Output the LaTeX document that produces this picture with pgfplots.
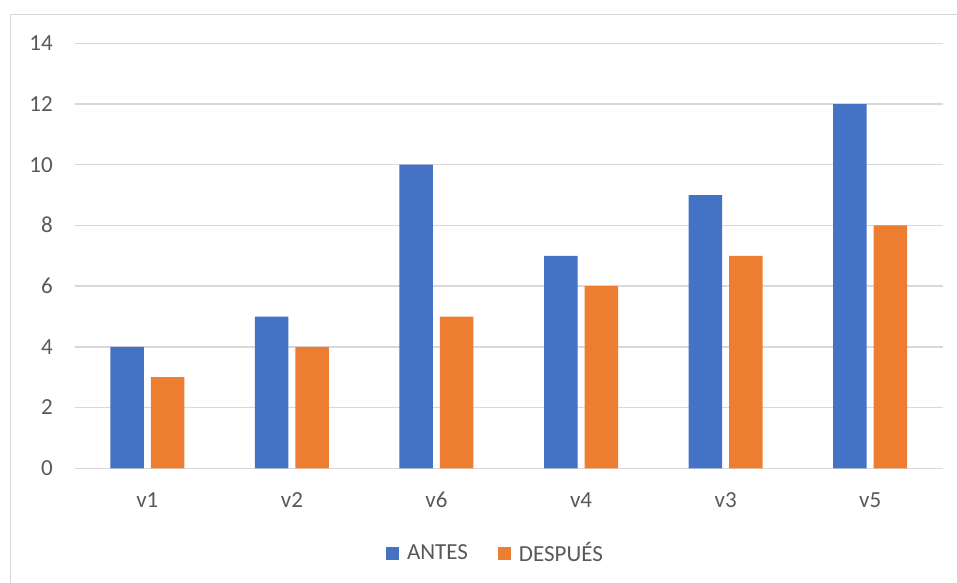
\documentclass[border=0pt]{standalone}
\usepackage{pgfplots}
\pgfplotsset{compat=1.18}
\usepackage{fontspec}
\setmainfont{Carlito}
\definecolor{serA}{HTML}{4472C4}
\definecolor{serB}{HTML}{ED7D31}
\definecolor{gridc}{HTML}{D9D9D9}
\definecolor{txt}{HTML}{595959}
\begin{document}
\begin{tikzpicture}
\useasboundingbox (0,0) rectangle (957bp,-583bp);
% chart frame
\draw[gridc, line width=1.6bp] (10.5bp,-583bp) -- (10.5bp,-14.5bp) -- (957bp,-14.5bp);
\begin{axis}[
  at={(75bp,-468.3bp)}, anchor=south west,
  scale only axis,
  width=867.5bp, height=425bp,
  ybar=7bp, bar width=33.5bp,
  xmin=-0.5, xmax=5.5,
  ymin=0, ymax=14,
  ytick={0,2,...,14},
  xtick={0,1,2,3,4,5},
  xticklabels={v1,v2,v6,v4,v3,v5},
  axis line style={draw=none},
  major tick length=0pt,
  ymajorgrids,
  grid style={gridc, line width=1.4bp},
  /pgf/number format/assume math mode=true,
  tick label style={font=\fontsize{23bp}{27bp}\selectfont, text=txt, inner sep=0pt},
  yticklabel style={anchor=base east, xshift=-22bp, yshift=-7.3bp},
  xticklabel style={anchor=base, yshift=-39bp},
  legend style={at={(0.4847,-0.1993)}, anchor=center, draw=none,
    font=\fontsize{23bp}{27bp}\selectfont, text=txt,
    legend columns=2, inner sep=0pt,
    /tikz/every odd column/.append style={column sep=6bp},
    /tikz/every even column/.append style={column sep=28bp}},
  legend image code/.code={\fill[#1] (0bp,-6.5bp) rectangle (13bp,6.5bp);},
  legend cell align=left,
]
\addplot[fill=serA, draw=none] coordinates {(0,4) (1,5) (2,10) (3,7) (4,9) (5,12)};
\addplot[fill=serB, draw=none] coordinates {(0,3) (1,4) (2,5) (3,6) (4,7) (5,8)};
\legend{ANTES, DESPUÉS}
\end{axis}
\end{tikzpicture}
\end{document}
